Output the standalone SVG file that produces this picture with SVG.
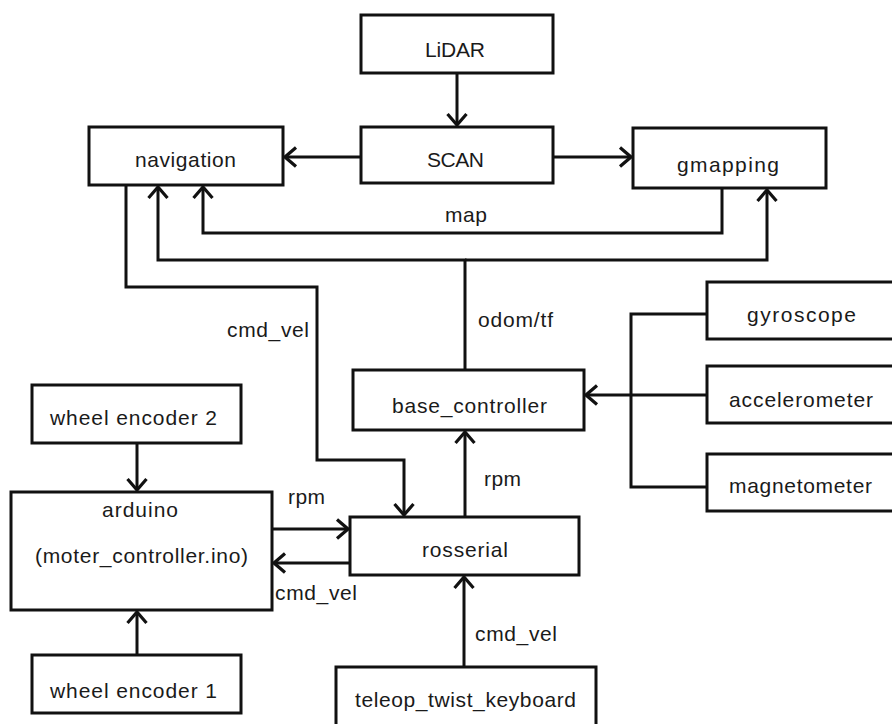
<svg xmlns="http://www.w3.org/2000/svg" width="892" height="724" viewBox="0 0 892 724">
<defs>
<marker id="arr" markerUnits="userSpaceOnUse" viewBox="-14 -12 16 24" markerWidth="16" markerHeight="24" refX="0" refY="0" orient="auto">
<path d="M-11,-9.5 L0,0 L-11,9.5" fill="none" stroke="#111" stroke-width="3.2" stroke-linejoin="miter"/>
</marker>
<style>
.box{fill:#fff;stroke:#111;stroke-width:3}
.t{font-family:"Liberation Sans",Arial,sans-serif;font-size:21px;fill:#1a1a1a}
.c{fill:none;stroke:#111;stroke-width:3}
.a{marker-end:url(#arr)}
</style>
</defs>
<rect width="892" height="724" fill="#fff"/>
<g id="connectors">
<path class="c a" d="M457,73 V125"/>
<path class="c a" d="M361,157 H285"/>
<path class="c a" d="M553,157 H631"/>
<path class="c a" d="M722,188 V233 H203 V187"/>
<path class="c a" d="M465,370 V260 H158 V187"/>
<path class="c a" d="M465,260 H767 V190"/>
<path class="c a" d="M126,185 V287 H317 V460 H404 V515"/>
<path class="c a" d="M465,517 V432"/>
<path class="c a" d="M272,529 H348"/>
<path class="c a" d="M350,563 H274"/>
<path class="c a" d="M464,667 V577"/>
<path class="c a" d="M137,443 V490"/>
<path class="c a" d="M137,655 V612"/>
<path class="c" d="M707,314 H631 V487 H707"/>
<path class="c a" d="M707,395 H586"/>
<text class="t" x="445" y="222" textLength="42">map</text>
<text class="t" x="478" y="327" textLength="75">odom/tf</text>
<text class="t" x="227" y="337" textLength="82">cmd_vel</text>
<text class="t" x="484" y="486" textLength="37">rpm</text>
<text class="t" x="288" y="504" textLength="37">rpm</text>
<text class="t" x="275" y="600" textLength="82">cmd_vel</text>
<text class="t" x="475" y="641" textLength="82">cmd_vel</text>
</g>
<g id="lidar"><rect class="box" x="361" y="15" width="192" height="58"/><text class="t" x="425" y="57" textLength="60">LiDAR</text></g>
<g id="scan"><rect class="box" x="361" y="127" width="192" height="56"/><text class="t" x="427" y="167" textLength="57">SCAN</text></g>
<g id="navigation"><rect class="box" x="89" y="127" width="194" height="58"/><text class="t" x="135" y="167" textLength="101">navigation</text></g>
<g id="gmapping"><rect class="box" x="633" y="128" width="193" height="60"/><text class="t" x="677" y="172" textLength="102">gmapping</text></g>
<g id="gyroscope"><rect class="box" x="707" y="282" width="200" height="57"/><text class="t" x="747" y="322" textLength="109">gyroscope</text></g>
<g id="accelerometer"><rect class="box" x="707" y="366" width="200" height="57"/><text class="t" x="729" y="407" textLength="144">accelerometer</text></g>
<g id="magnetometer"><rect class="box" x="707" y="454" width="200" height="57"/><text class="t" x="729" y="493" textLength="143">magnetometer</text></g>
<g id="base_controller"><rect class="box" x="353" y="370" width="231" height="60"/><text class="t" x="392" y="413" textLength="155">base_controller</text></g>
<g id="rosserial"><rect class="box" x="350" y="517" width="229" height="58"/><text class="t" x="422" y="557" textLength="86">rosserial</text></g>
<g id="wheel_encoder_2"><rect class="box" x="32" y="385" width="209" height="58"/><text class="t" x="50" y="425" textLength="167">wheel  encoder 2</text></g>
<g id="arduino"><rect class="box" x="11" y="492" width="261" height="118"/><text class="t" x="102" y="517" textLength="76">arduino</text><text class="t" x="35" y="563" textLength="213">(moter_controller.ino)</text></g>
<g id="wheel_encoder_1"><rect class="box" x="32" y="655" width="209" height="58"/><text class="t" x="50" y="698" textLength="167">wheel  encoder 1</text></g>
<g id="teleop_twist_keyboard"><rect class="box" x="336" y="667" width="260" height="70"/><text class="t" x="355" y="707" textLength="221">teleop_twist_keyboard</text></g>
</svg>
